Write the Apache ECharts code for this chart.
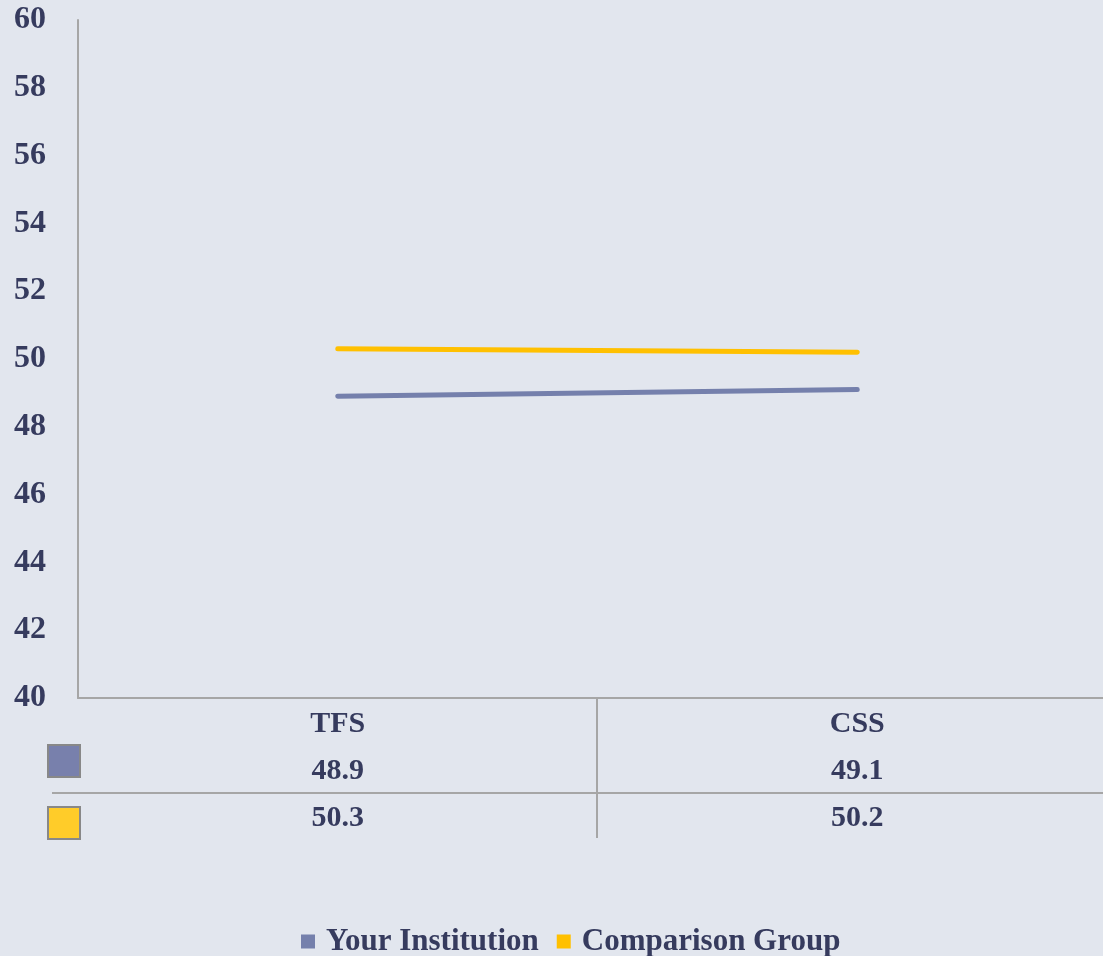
<!DOCTYPE html>
<html lang="en">
<head>
    <meta charset="UTF-8">
    <script src="https://cdn.jsdelivr.net/npm/echarts@6/dist/echarts.min.js"></script>
    <title>TFS / CSS</title>
    <style>
        html, body { margin: 0; padding: 0; background: #E2E6EE; overflow: hidden; }
        /* plot area runs a little past the right edge of the window, like the original */
        #main { width: 1117px; height: 956px; }
    </style>
</head>
<body>
<div id="main"></div>
<script type="text/javascript">
    var categories = ['TFS', 'CSS'];
    var yourInstitution = [48.9, 49.1];
    var comparisonGroup = [50.3, 50.2];
    var seriesNames = ['Your Institution', 'Comparison Group'];

    var textColor = '#363B5E';
    var font = '"Liberation Serif", "Times New Roman", serif';

    var myChart = echarts.init(document.getElementById('main'));
    var option = {
        backgroundColor: '#E2E6EE',
        textStyle: { fontFamily: font, fontWeight: 'bold', color: textColor },
        grid: { left: 78, top: 20, right: 0, bottom: 258 },
        legend: {
            data: seriesNames,
            top: 921,
            left: 296,
            icon: 'rect',
            itemWidth: 14,
            itemHeight: 14,
            itemGap: 18,
            textStyle: { fontFamily: font, fontWeight: 'bold', fontSize: 31, color: textColor, padding: [0, 0, 0, 6] }
        },
        xAxis: {
            type: 'category',
            data: categories,
            boundaryGap: true,
            axisLine: { lineStyle: { color: '#A6A6A6', width: 2 } },
            axisTick: { show: false },
            axisLabel: {
                margin: 3,
                formatter: function (v, i) {
                    return '{h|' + v + '}\n{v|' + yourInstitution[i].toFixed(1) + '}\n{v|' + comparisonGroup[i].toFixed(1) + '}';
                },
                rich: {
                    h: { fontFamily: font, fontWeight: 'bold', fontSize: 30, color: textColor, lineHeight: 47 },
                    v: { fontFamily: font, fontWeight: 'bold', fontSize: 30, color: textColor, lineHeight: 47 }
                }
            }
        },
        yAxis: {
            type: 'value',
            min: 40,
            max: 60,
            interval: 2,
            axisLine: { show: true, lineStyle: { color: '#A6A6A6', width: 2 } },
            axisTick: { show: false },
            splitLine: { show: false },
            axisLabel: { margin: 32, fontFamily: font, fontWeight: 'bold', fontSize: 32, color: textColor }
        },
        series: [{
            name: seriesNames[0],
            type: 'line',
            data: yourInstitution,
            symbol: 'none',
            color: '#7580AC',
            lineStyle: { width: 5, cap: 'round' }
        }, {
            name: seriesNames[1],
            type: 'line',
            data: comparisonGroup,
            symbol: 'none',
            color: '#FFC000',
            lineStyle: { width: 5, cap: 'round' }
        }],
        // data table borders and row keys
        graphic: [
            { type: 'line', shape: { x1: 52, y1: 793, x2: 1117, y2: 793 }, style: { stroke: '#A6A6A6', lineWidth: 2 } },
            { type: 'line', shape: { x1: 597, y1: 698, x2: 597, y2: 838 }, style: { stroke: '#A6A6A6', lineWidth: 2 } },
            { type: 'rect', shape: { x: 48, y: 745, width: 32, height: 32 }, style: { fill: '#7880AC', stroke: '#888888', lineWidth: 2 } },
            { type: 'rect', shape: { x: 48, y: 807, width: 32, height: 32 }, style: { fill: '#FFCC29', stroke: '#888888', lineWidth: 2 } }
        ]
    };
    myChart.setOption(option);
</script>
</body>
</html>
